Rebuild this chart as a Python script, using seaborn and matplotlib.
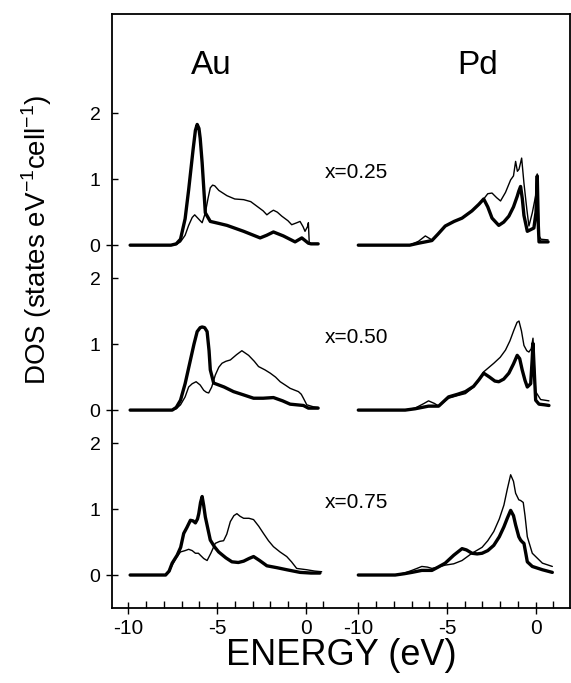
import numpy as np
import matplotlib
matplotlib.use("Agg")
import matplotlib.pyplot as plt
import seaborn as sns

# === DONNÉES ===
# énergie en eV, DOS en états/eV/cellule ; "thick" = trait épais, "thin" = trait fin
au25_thick_e = [-9.9, -7.6, -7.3, -7.06, -6.8, -6.6, -6.35, -6.22, -6.12, -6.02, -5.95, -5.84, -5.66, -5.38, -4.9,
                -4.44, -3.5, -2.57, -2.2, -1.82, -1.26, -0.6, -0.22, 0.15, 0.3, 0.7]
au25_thick_v = [0, 0, 0.02, 0.09, 0.4, 0.84, 1.45, 1.74, 1.83, 1.77, 1.62, 1.25, 0.49, 0.36, 0.33,
                0.30, 0.21, 0.11, 0.15, 0.20, 0.14, 0.05, 0.11, 0.03, 0.02, 0.02]
au25_thin_e = [-9.9, -7.6, -7.3, -7.06, -6.8, -6.6, -6.4, -6.26, -6.05, -5.84, -5.66, -5.5, -5.38, -5.25, -5.13,
               -4.9, -4.44, -4.0, -3.5, -3.1, -2.75, -2.4, -2.19, -2.0, -1.82, -1.6, -1.35, -1.0, -0.79, -0.5,
               -0.32, -0.15, -0.04, 0.1, 0.15, 0.2, 0.3, 0.7]
au25_thin_v = [0, 0, 0.01, 0.05, 0.15, 0.3, 0.42, 0.46, 0.40, 0.34, 0.49, 0.72, 0.87, 0.91, 0.90,
               0.83, 0.75, 0.70, 0.69, 0.66, 0.59, 0.52, 0.46, 0.50, 0.53, 0.50, 0.44, 0.37, 0.31, 0.34,
               0.36, 0.28, 0.21, 0.28, 0.34, 0.03, 0.02, 0.02]

pd25_thick_e = [-10, -7.1, -6.6, -6.22, -5.85, -5.5, -5.1, -4.6, -4.15, -3.59, -3.2, -2.93, -2.7, -2.46, -2.08,
                -1.8, -1.51, -1.25, -1.04, -0.95, -0.85, -0.75, -0.66, -0.47, -0.1, 0.02, 0.09, 0.15, 0.19, 0.3, 0.7]
pd25_thick_v = [0, 0, 0.03, 0.05, 0.07, 0.17, 0.29, 0.36, 0.41, 0.52, 0.62, 0.70, 0.58, 0.41, 0.30,
                0.35, 0.44, 0.58, 0.74, 0.82, 0.89, 0.70, 0.45, 0.21, 0.26, 0.5, 1.05, 0.3, 0.05, 0.05, 0.05]
pd25_thin_e = [-10, -7.1, -6.6, -6.22, -5.85, -5.5, -5.1, -4.6, -4.15, -3.59, -3.2, -2.93, -2.7, -2.46, -2.2,
               -1.98, -1.7, -1.41, -1.25, -1.13, -1.03, -0.94, -0.85, -0.79, -0.66, -0.5, -0.38, -0.19, 0.0,
               0.09, 0.15, 0.19, 0.3, 0.7]
pd25_thin_v = [0, 0, 0.06, 0.14, 0.08, 0.17, 0.29, 0.36, 0.41, 0.52, 0.62, 0.70, 0.78, 0.79, 0.72,
               0.67, 0.80, 0.99, 1.05, 1.27, 1.12, 1.15, 1.25, 1.32, 0.94, 0.55, 0.29, 0.49, 0.75,
               1.08, 0.5, 0.14, 0.09, 0.08]

au50_thick_e = [-9.9, -7.53, -7.3, -7.06, -6.8, -6.5, -6.3, -6.12, -5.95, -5.84, -5.7, -5.56, -5.45, -5.38,
                -5.19, -4.6, -4.07, -3.5, -2.94, -2.4, -1.82, -1.3, -0.88, -0.13, 0.15, 0.7]
au50_thick_v = [0, 0, 0.04, 0.15, 0.4, 0.76, 1.0, 1.19, 1.25, 1.26, 1.25, 1.19, 0.9, 0.61,
                0.41, 0.35, 0.28, 0.23, 0.18, 0.18, 0.19, 0.14, 0.09, 0.07, 0.03, 0.03]
au50_thin_e = [-9.9, -7.53, -7.3, -7.06, -6.8, -6.6, -6.4, -6.18, -5.95, -5.75, -5.6, -5.47, -5.3, -5.1, -4.9,
               -4.72, -4.5, -4.25, -3.9, -3.6, -3.22, -2.9, -2.66, -2.3, -2.0, -1.7, -1.44, -1.1, -0.88, -0.6,
               -0.41, -0.25, -0.13, 0.06, 0.43, 0.7]
au50_thin_v = [0, 0, 0.02, 0.08, 0.2, 0.35, 0.40, 0.43, 0.38, 0.30, 0.27, 0.26, 0.35, 0.53, 0.65,
               0.71, 0.74, 0.76, 0.84, 0.90, 0.83, 0.74, 0.66, 0.61, 0.56, 0.50, 0.43, 0.37, 0.33, 0.30,
               0.28, 0.24, 0.18, 0.08, 0.05, 0.04]

pd50_thick_e = [-10, -7.36, -6.8, -6.04, -5.47, -4.91, -4.4, -3.96, -3.5, -3.2, -2.93, -2.6, -2.3, -2.08, -1.8,
                -1.51, -1.25, -1.04, -0.9, -0.76, -0.6, -0.47, -0.28, -0.2, -0.15, -0.08, 0.0, 0.19, 0.5, 0.75]
pd50_thick_v = [0, 0, 0.02, 0.06, 0.06, 0.2, 0.24, 0.28, 0.36, 0.46, 0.56, 0.50, 0.44, 0.43, 0.47,
                0.56, 0.70, 0.83, 0.78, 0.61, 0.45, 0.35, 0.40, 0.75, 1.01, 0.6, 0.15, 0.09, 0.08, 0.07]
pd50_thin_e = [-10, -7.36, -6.8, -6.3, -6.04, -5.7, -5.47, -4.91, -4.4, -3.96, -3.5, -3.2, -2.93, -2.36, -2.0,
               -1.7, -1.45, -1.23, -1.05, -0.94, -0.8, -0.66, -0.5, -0.38, -0.25, -0.15, -0.08, 0.0, 0.28, 0.75]
pd50_thin_v = [0, 0, 0.03, 0.1, 0.14, 0.1, 0.06, 0.18, 0.22, 0.25, 0.35, 0.45, 0.58, 0.71, 0.80,
               0.91, 1.05, 1.21, 1.33, 1.35, 1.2, 0.98, 0.9, 0.88, 0.93, 1.09, 0.7, 0.28, 0.16, 0.14]

au75_thick_e = [-9.9, -7.9, -7.7, -7.53, -7.25, -7.05, -6.88, -6.7, -6.5, -6.35, -6.22, -6.1, -6.03, -5.93,
                -5.84, -5.75, -5.66, -5.5, -5.38, -5.15, -4.91, -4.5, -4.16, -3.8, -3.5, -3.2, -2.94, -2.6,
                -2.19, -1.6, -1.07, -0.32, 0.3, 0.8]
au75_thick_v = [0, 0, 0.06, 0.18, 0.30, 0.42, 0.63, 0.72, 0.83, 0.82, 0.79, 0.85, 0.93, 1.1,
                1.19, 1.05, 0.88, 0.68, 0.53, 0.43, 0.35, 0.26, 0.20, 0.19, 0.21, 0.25, 0.28, 0.22,
                0.14, 0.11, 0.08, 0.04, 0.03, 0.03]
au75_thin_e = [-9.9, -7.9, -7.7, -7.53, -7.3, -7.06, -6.8, -6.6, -6.4, -6.22, -6.05, -5.94, -5.75, -5.56, -5.35,
               -5.1, -4.85, -4.63, -4.45, -4.25, -4.05, -3.88, -3.7, -3.5, -3.2, -2.94, -2.65, -2.38, -2.1,
               -1.82, -1.45, -1.07, -0.8, -0.51, 0.06, 0.5, 0.9]
au75_thin_v = [0, 0, 0.05, 0.15, 0.26, 0.35, 0.37, 0.39, 0.37, 0.33, 0.33, 0.30, 0.25, 0.22, 0.33,
               0.48, 0.51, 0.52, 0.62, 0.81, 0.90, 0.93, 0.89, 0.86, 0.86, 0.84, 0.74, 0.63, 0.52,
               0.43, 0.35, 0.28, 0.2, 0.10, 0.08, 0.06, 0.05]

pd75_thick_e = [-10, -7.92, -7.4, -6.98, -6.42, -5.85, -5.5, -5.1, -4.62, -4.15, -3.9, -3.59, -3.3, -3.02, -2.7,
                -2.36, -2.05, -1.79, -1.6, -1.41, -1.25, -1.13, -0.95, -0.85, -0.75, -0.66, -0.55, -0.47, -0.19,
                0.38, 0.94]
pd75_thick_v = [0, 0, 0.02, 0.04, 0.07, 0.07, 0.12, 0.18, 0.30, 0.40, 0.38, 0.33, 0.32, 0.33, 0.37,
                0.45, 0.58, 0.73, 0.86, 0.98, 0.90, 0.76, 0.58, 0.53, 0.50, 0.48, 0.32, 0.20, 0.13,
                0.08, 0.04]
pd75_thin_e = [-10, -7.92, -7.4, -6.98, -6.6, -6.42, -6.1, -5.85, -5.5, -5.1, -4.62, -4.15, -3.59, -3.02, -2.7,
               -2.36, -2.05, -1.79, -1.6, -1.41, -1.25, -1.13, -0.95, -0.85, -0.7, -0.6, -0.47, -0.19, 0.38, 0.94]
pd75_thin_v = [0, 0, 0.03, 0.07, 0.11, 0.13, 0.12, 0.10, 0.12, 0.15, 0.17, 0.22, 0.33, 0.42, 0.52,
               0.66, 0.85, 1.06, 1.3, 1.52, 1.42, 1.24, 1.14, 1.13, 1.1, 0.9, 0.58, 0.33, 0.18, 0.13]

concentrations = ["x=0.25", "x=0.50", "x=0.75"]
elements = ["Au", "Pd"]
x_ticks = [-10, -5, 0]
y_ticks = [0, 1, 2]

# === MISE EN PAGE ===
row_offset = [5.0, 2.5, 0.0]      # décalage vertical de chaque concentration
col_shift = [0.0, 12.965]         # décalage horizontal Au / Pd

curves = {
    (0, 0): [(au25_thick_e, au25_thick_v), (au25_thin_e, au25_thin_v)],
    (0, 1): [(pd25_thick_e, pd25_thick_v), (pd25_thin_e, pd25_thin_v)],
    (1, 0): [(au50_thick_e, au50_thick_v), (au50_thin_e, au50_thin_v)],
    (1, 1): [(pd50_thick_e, pd50_thick_v), (pd50_thin_e, pd50_thin_v)],
    (2, 0): [(au75_thick_e, au75_thick_v), (au75_thin_e, au75_thin_v)],
    (2, 1): [(pd75_thick_e, pd75_thick_v), (pd75_thin_e, pd75_thin_v)],
}

sns.set_style("ticks")
plt.rcParams["font.family"] = ["Liberation Sans", "DejaVu Sans"]
plt.rcParams["text.color"] = "black"
plt.rcParams["xtick.color"] = "black"
plt.rcParams["ytick.color"] = "black"
plt.rcParams["axes.labelcolor"] = "black"

fig = plt.figure(figsize=(5.71, 6.83), dpi=100)
ax = fig.add_axes([0.1956, 0.1098, 0.8026, 0.8693])

for (r, c), pair in curves.items():
    for (e, v), lw in zip(pair, [2.4, 1.0]):
        sns.lineplot(x=np.array(e) + col_shift[c], y=np.array(v) + row_offset[r],
                     color="black", linewidth=lw, estimator=None, sort=False, ax=ax)

ax.set_xlim(-10.94, 14.9)
ax.set_ylim(-0.5, 8.5)

# graduations x : majeures -10, -5, 0 ; mineures tous les 1 eV
maj_x, maj_lab, min_x = [], [], []
for s in col_shift:
    maj_x += [t + s for t in x_ticks]
    maj_lab += [str(t) for t in x_ticks]
    min_x += [t + s for t in range(-10, 2)]
ax.set_xticks(maj_x)
ax.set_xticklabels(maj_lab)
ax.set_xticks(min_x, minor=True)

# graduations y : 1 et 2 (majeures), 0 (mineures, traversantes)
maj_y, maj_ylab, zero_y = [], [], []
for off in row_offset:
    zero_y.append(off)
    for t in y_ticks[1:]:
        maj_y.append(off + t)
        maj_ylab.append(str(t))
ax.set_yticks(maj_y)
ax.set_yticklabels(maj_ylab)
ax.set_yticks(zero_y, minor=True)
ax.set_yticklabels(["0"] * len(zero_y), minor=True)

ax.tick_params(axis="x", which="major", direction="inout", length=8, width=1, labelsize=15, pad=4)
ax.tick_params(axis="x", which="minor", direction="in", length=5, width=1)
ax.tick_params(axis="y", which="major", direction="in", length=4.5, width=1, labelsize=14, pad=8)
ax.tick_params(axis="y", which="minor", direction="inout", length=9, width=1, labelsize=14, pad=4)

for sp in ax.spines.values():
    sp.set_linewidth(1.3)
    sp.set_color("black")

for r, lab in enumerate(concentrations):
    ax.text(1.09, row_offset[r] + 1.1, lab, ha="left", va="center", fontsize=15)
ax.text(-5.31, 7.72, elements[0], ha="center", va="center", fontsize=24)
ax.text(9.71, 7.72, elements[1], ha="center", va="center", fontsize=24)

ax.set_xlabel("ENERGY (eV)", fontsize=26, labelpad=0)
fig.text(0.065, 1 - 240 / 683, r"DOS (states eV$^{\mathregular{-1}}$cell$^{\mathregular{-1}}$)",
         rotation=90, ha="center", va="center", fontsize=20)

fig.savefig("out.png", dpi=100)
